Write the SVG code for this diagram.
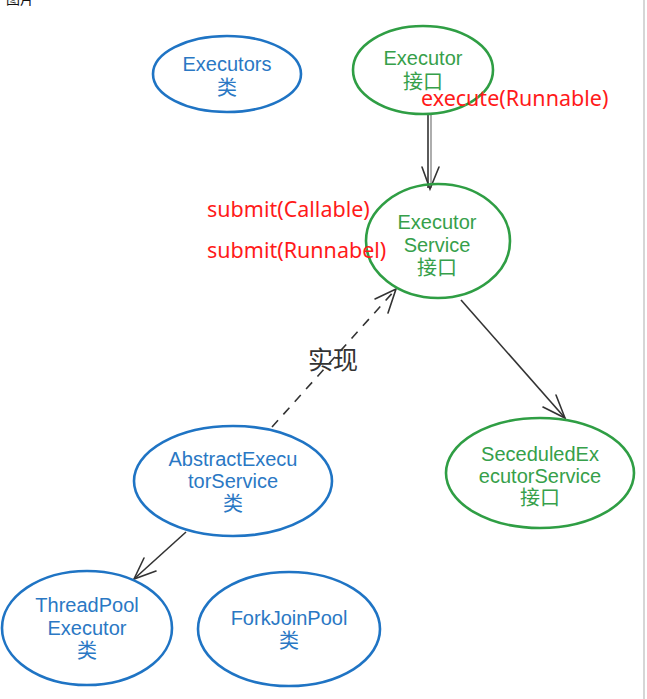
<svg xmlns="http://www.w3.org/2000/svg" width="647" height="699" viewBox="0 0 647 699">
<style>
.blue{fill:none;stroke:#1f74c4;stroke-width:2.6}
.green{fill:none;stroke:#2f9e44;stroke-width:2.6}
.tb{font-family:"Liberation Sans","Noto Sans CJK SC",sans-serif;font-size:20px;fill:#2a78c4;text-anchor:middle}
.tg{font-family:"Liberation Sans","Noto Sans CJK SC",sans-serif;font-size:20px;fill:#36a04a;text-anchor:middle}
.tr{font-family:"Noto Sans","Noto Sans CJK SC",sans-serif;font-size:21.5px;fill:#ff1a1a}
.edge{fill:none;stroke:#333;stroke-width:1.6}
.head{fill:none;stroke:#333;stroke-width:1.6;stroke-linecap:round}
</style>
<rect width="647" height="699" fill="#ffffff"/>
<text x="6" y="4" font-family="Noto Sans CJK SC,sans-serif" font-size="14" fill="#111">图片</text>
<line x1="644" y1="0" x2="644" y2="699" stroke="#c8c8c8" stroke-width="1.5"/>

<g id="connectors">
  <g id="e1">
    <line x1="428" y1="115" x2="428" y2="188" class="edge"/>
    <line x1="431" y1="115" x2="431" y2="188" stroke="#777" stroke-width="1.2"/>
    <polyline points="422,167 430,189 439,167" class="head"/>
  </g>
  <g id="e2">
    <line x1="461" y1="300" x2="565" y2="418" class="edge"/>
    <polyline points="543,407 565,418 556,395" class="head"/>
  </g>
  <g id="e3">
    <line x1="272" y1="427" x2="396" y2="289" class="edge" stroke-dasharray="9,8"/>
    <polyline points="375,299 396,289 388,313" class="head"/>
  </g>
  <g id="e4">
    <line x1="186" y1="532" x2="134" y2="579" class="edge"/>
    <polyline points="144,558 134,579 156,571" class="head"/>
  </g>
  <text x="333" y="369" font-family="Noto Sans CJK SC,sans-serif" font-size="25" fill="#333" text-anchor="middle">实现</text>
</g>

<g id="executors">
  <ellipse cx="227" cy="74" rx="74" ry="38" class="blue"/>
  <text x="227" y="71" class="tb">Executors</text>
  <text x="227" y="95" class="tb">类</text>
</g>
<g id="executor">
  <ellipse cx="423" cy="70" rx="70" ry="44" class="green"/>
  <text x="423" y="65" class="tg">Executor</text>
  <text x="423" y="89" class="tg">接口</text>
  <text x="421" y="106" class="tr">execute(Runnable)</text>
</g>
<g id="executorservice">
  <ellipse cx="438" cy="241" rx="72" ry="57" class="green"/>
  <text x="437" y="229" class="tg">Executor</text>
  <text x="437" y="252" class="tg">Service</text>
  <text x="437" y="275" class="tg">接口</text>
  <text x="207" y="217" class="tr">submit(Callable)</text>
  <text x="207" y="258" class="tr">submit(Runnabel)</text>
</g>
<g id="scheduled">
  <ellipse cx="540" cy="473" rx="94" ry="55" class="green"/>
  <text x="540" y="461" class="tg">SeceduledEx</text>
  <text x="540" y="483" class="tg">ecutorService</text>
  <text x="540" y="505" class="tg">接口</text>
</g>
<g id="abstract">
  <ellipse cx="233" cy="481" rx="99" ry="55" class="blue"/>
  <text x="233" y="466" class="tb">AbstractExecu</text>
  <text x="233" y="488" class="tb">torService</text>
  <text x="233" y="511" class="tb">类</text>
</g>
<g id="threadpool">
  <ellipse cx="87" cy="628" rx="85" ry="57" class="blue"/>
  <text x="87" y="612" class="tb">ThreadPool</text>
  <text x="87" y="635" class="tb">Executor</text>
  <text x="87" y="658" class="tb">类</text>
</g>
<g id="forkjoin">
  <ellipse cx="289" cy="629" rx="91" ry="57" class="blue"/>
  <text x="289" y="625" class="tb">ForkJoinPool</text>
  <text x="289" y="648" class="tb">类</text>
</g>
</svg>
